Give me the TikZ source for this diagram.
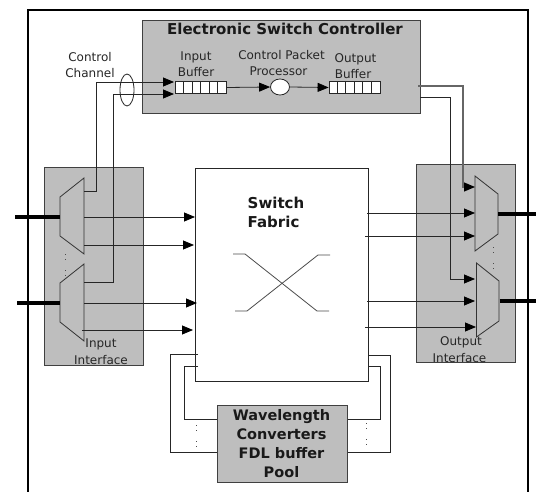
\documentclass[tikz,border=0pt]{standalone}
\usepackage{fontspec}
\setmainfont{DejaVu Sans}
\usetikzlibrary{arrows.meta,calc,shapes.geometric}
\definecolor{panel}{HTML}{BEBEBE}
\tikzset{
  x=1pt,y=-1pt,
  panelbox/.style={draw=black!75,fill=panel,line width=1pt},
  wire/.style={draw=black!85,line width=0.8pt},
  greywire/.style={draw=black!60,line width=1.1pt},
  tipped/.style={-{Triangle[length=11pt,width=9pt,color=black]}},
  heavywire/.style={draw=black,line width=3.5pt,line cap=round},
  mux/.style={draw=black!80,fill=panel,line width=0.8pt},
  small label/.style={font=\fontsize{12}{14}\selectfont,text=black!85,inner sep=0pt},
  title label/.style={font=\fontsize{15}{18}\selectfont\bfseries,text=black!90,inner sep=0pt},
  dotted column/.style={draw=black!70,line width=0.8pt,dash pattern=on 1pt off 4pt on 1pt off 10pt},
}
\begin{document}
\begin{tikzpicture}
\useasboundingbox (0,0) rectangle (536,492);
\fill[white] (0,0) rectangle (536,492);
% outer frame
\draw[line width=2pt,black] (28,492) -- (28,10) -- (528,10) -- (528,492);
% controller
\node[panelbox,minimum width=277.5pt,minimum height=93.5pt,inner sep=0pt] (ctrl) at (281.25,67) {};
\node[title label] (ctitle) at (285,29) {Electronic Switch Controller};
\node[small label] (ib1) at (196,57) {Input};
\node[small label] (ib2) at (196,72) {Buffer};
\node[small label] (cp1) at (281.5,55) {Control Packet};
\node[small label] (cp2) at (278.5,71) {Processor};
\node[small label] (ob1) at (355.5,59) {Output};
\node[small label] (ob2) at (353,74) {Buffer};
\node[small label] (cc1) at (90,57) {Control};
\node[small label] (cc2) at (90,73) {Channel};
% buffers
\node[draw=black!85,fill=white,line width=0.8pt,minimum width=51pt,minimum height=11.5pt,inner sep=0pt] (ibuf) at (201,87.5) {};
\node[draw=black!85,fill=white,line width=0.8pt,minimum width=51pt,minimum height=11.5pt,inner sep=0pt] (obuf) at (354.5,87.5) {};
\foreach \i in {1,...,5}{
  \draw[black!85,line width=0.7pt] ($(ibuf.north west)+(8.5*\i,0)$) -- ($(ibuf.south west)+(8.5*\i,0)$);
  \draw[black!85,line width=0.7pt] ($(obuf.north west)+(8.5*\i,0)$) -- ($(obuf.south west)+(8.5*\i,0)$);
}
\node[draw=black!85,fill=white,ellipse,line width=0.8pt,minimum width=19pt,minimum height=16pt,inner sep=0pt] (proc) at (280,87) {};
\draw[wire,tipped] (ibuf.east) -- (proc.west);
\draw[wire,tipped] (proc.east) -- (obuf.west);
% interfaces
\node[panelbox,minimum width=98.5pt,minimum height=197pt,inner sep=0pt] (inif) at (93.75,266.5) {};
\node[panelbox,minimum width=98.5pt,minimum height=197.5pt,inner sep=0pt] (outif) at (465.75,263.75) {};
% switch fabric
\node[draw=black!85,fill=white,line width=1pt,minimum width=173.5pt,minimum height=212pt,inner sep=0pt] (fabric) at (281.75,275) {};
\node[title label,align=left,font=\fontsize{15}{19.5}\selectfont\bfseries] (ftext) at (276,212.5) {Switch\\Fabric};
\draw[black!70,line width=0.8pt] (233,254) -- (245,254) -- (317,311) -- (329,311);
\draw[black!70,line width=0.8pt] (235,311) -- (247,311) -- (318,255) -- (330,255);
% muxes
\draw[mux] (84,178) -- (84,254) -- (60,236) -- (60,197) -- cycle;
\draw[mux] (84,264) -- (84,341) -- (60,322) -- (60,283) -- cycle;
\draw[mux] (475,176) -- (498,194) -- (498,234) -- (475,251) -- cycle;
\draw[mux] (476.5,263) -- (499,281) -- (499,321) -- (476.5,337) -- cycle;
\node[small label] (il1) at (101,344) {Input};
\node[small label] (il2) at (101,360) {Interface};
\node[small label] (ol1) at (461,342) {Output};
\node[small label] (ol2) at (459.5,358) {Interface};
\coordinate (il1end) at (15,217); \coordinate (il1mux) at (60,217);
\coordinate (il2end) at (17,303); \coordinate (il2mux) at (60,303);
\coordinate (ol1end) at (536,214); \coordinate (ol1mux) at (498,214);
\coordinate (ol2end) at (536,301); \coordinate (ol2mux) at (499.5,301);
\draw[heavywire,line cap=butt] (il1end) -- (il1mux);
\draw[heavywire,line cap=butt] (il2end) -- (il2mux);
\draw[heavywire,line cap=butt] (ol1mux) -- (ol1end);
\draw[heavywire,line cap=butt] (ol2mux) -- (ol2end);
% mux to fabric
\foreach \ya/\xa/\xb in {217/84/195,245/84/194,303/84/197,330/82/193}{
  \draw[wire,tipped] (\xa,\ya) -- (\xb,\ya);
}
\foreach \ya/\xa/\xb in {213/367/475,236/365/475,301/367/475,327/365/476}{
  \draw[wire,tipped] (\xa,\ya) -- (\xb,\ya);
}
% control channel
\draw[wire,tipped] (84,191) -- (96,191) -- (96,82) -- (174,82);
\draw[wire,tipped] (84,282) -- (113,282) -- (113,94) -- (174,94);
\node[draw=black!85,ellipse,line width=0.8pt,minimum width=14pt,minimum height=32pt,inner sep=0pt] (chan) at (127,90) {};
% control to output
\draw[wire,tipped] (420,97) -- (450,97) -- (450,279) -- (475,279);
\draw[greywire,tipped] (418,86) -- (463,86) -- (463,187) -- (475,187);
% wavelength pool
\draw[wire] (198,354) -- (170,354) -- (170,452) -- (217,452);
\draw[wire] (198,366) -- (184.5,366) -- (184.5,419) -- (217,419);
\draw[wire] (368,355) -- (390,355) -- (390,452) -- (347,452);
\draw[wire] (368,366) -- (380,366) -- (380,419) -- (347,419);
\node[panelbox,minimum width=129.5pt,minimum height=77pt,inner sep=0pt] (pool) at (282.25,443.5) {};
\node[title label,align=center,font=\fontsize{14.5}{19.2}\selectfont\bfseries] (ptext) at (281.5,443.5) {Wavelength\\Converters\\FDL buffer\\Pool};
% continuation dots
\draw[dotted column] (65,254) -- (65,276);
\draw[dotted column] (493,247) -- (493,269);
\draw[dotted column] (196,425) -- (196,447);
\draw[dotted column] (366,423) -- (366,445);
\end{tikzpicture}
\end{document}
